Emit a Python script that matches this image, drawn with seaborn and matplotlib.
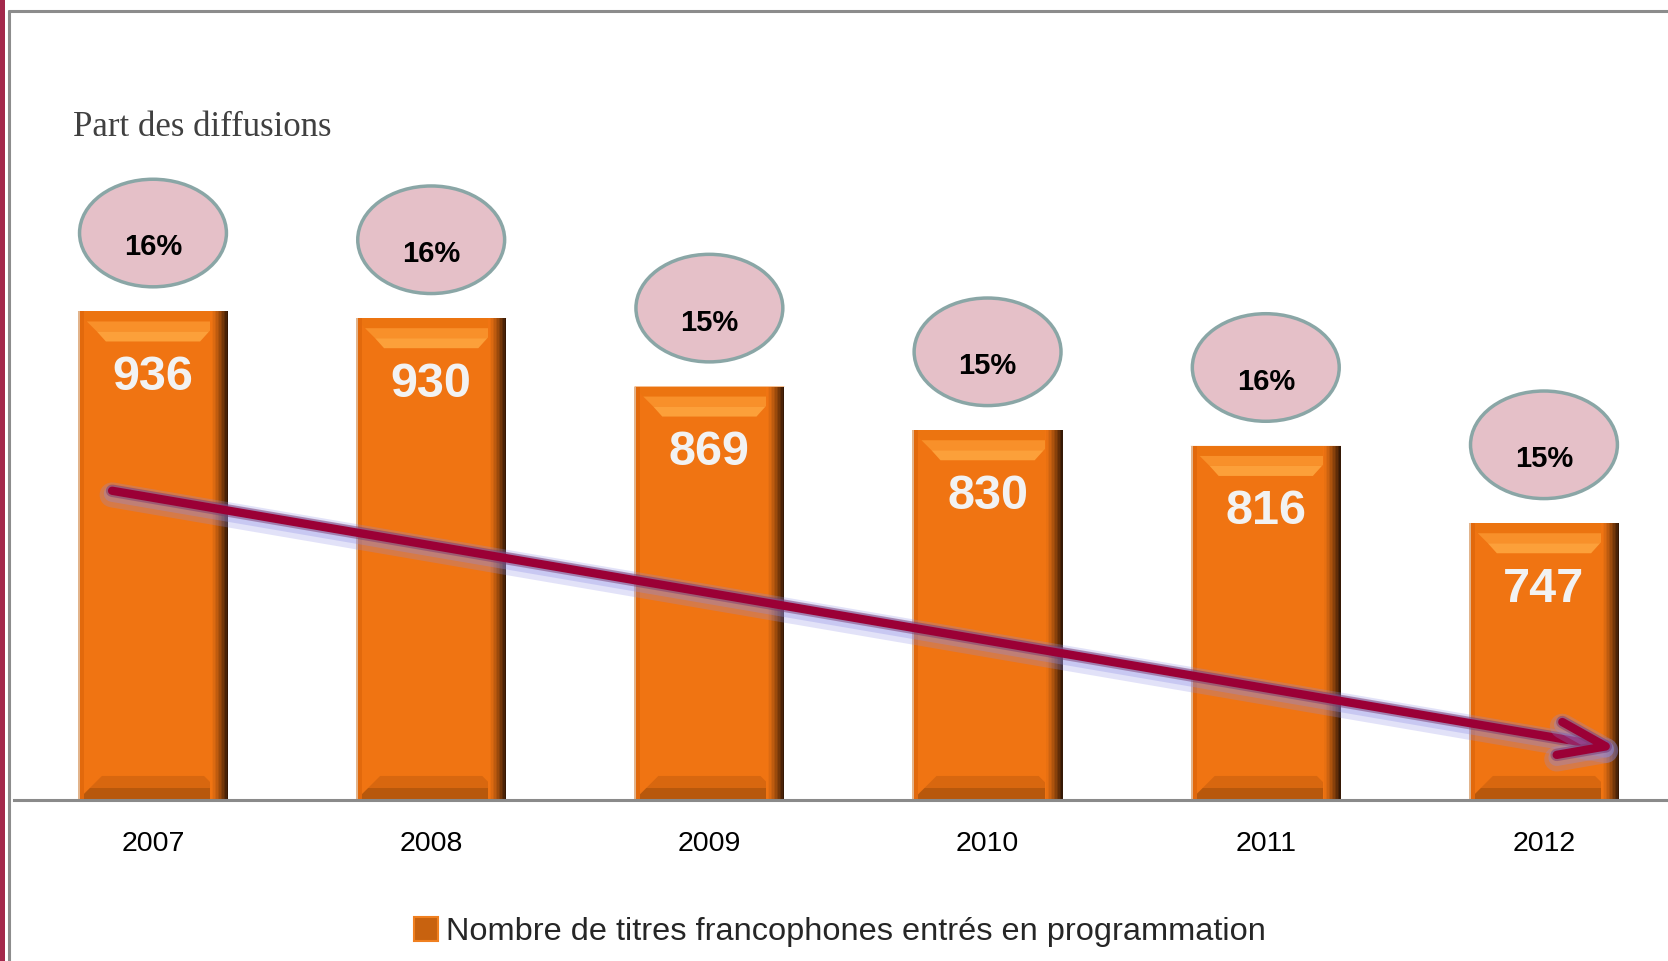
import numpy as np
import pandas as pd
import matplotlib
matplotlib.use('Agg')
import matplotlib.pyplot as plt
import matplotlib.patches as mpatches
import matplotlib.patheffects as pe
from matplotlib.lines import Line2D
from matplotlib.colors import to_rgb
import seaborn as sns

years = ['2007', '2008', '2009', '2010', '2011', '2012']
titles = [936, 930, 869, 830, 816, 747]
share = [16, 16, 15, 15, 16, 15]
legend_label = 'Nombre de titres francophones entrés en programmation'
chart_title = 'Part des diffusions'

ORANGE = '#f07412'
DARK = '#351805'

sns.set_style('white')
plt.rcParams['font.family'] = ['Liberation Sans', 'DejaVu Sans']

fig = plt.figure(figsize=(16.68, 9.61), dpi=100)
ax = fig.add_axes([0.00833, 0.16753, 1.0007, 0.8325])

df = pd.DataFrame({'year': years, 'titles': titles})
sns.barplot(data=df, x='year', y='titles', color=ORANGE, width=0.54,
            saturation=1, linewidth=0, ax=ax, zorder=2)

ax.set_ylim(500, 1214)
ax.set_xlim(-0.5, 5.5)
ax.set_xlabel('')
ax.set_ylabel('')
ax.set_yticks([])
for s in ['top', 'right', 'left']:
    ax.spines[s].set_visible(False)
ax.spines['bottom'].set_color('#8a8a8a')
ax.spines['bottom'].set_linewidth(2.2)
ax.spines['bottom'].set_zorder(5)
ax.tick_params(axis='x', which='major', length=0, pad=22, labelsize=20.5, labelcolor='black')
ax.set_xticks(np.arange(-0.5, 6, 1), minor=True)
ax.tick_params(axis='x', which='minor', length=8, width=1.6, color='#8a8a8a', direction='out')

# pixel -> data units
ux = 1 / 278.2
uy = 1 / 1.12
bot = ax.get_ylim()[0]


def mix(c1, c2, f):
    a, b = np.array(to_rgb(c1)), np.array(to_rgb(c2))
    return tuple(a + (b - a) * f)


def trap(x0, w, y_out, y_in, inset_out, inset_in, color):
    return mpatches.Polygon([(x0 + inset_out * ux, y_out), (x0 + w - inset_out * ux, y_out),
                             (x0 + w - inset_in * ux, y_in), (x0 + inset_in * ux, y_in)],
                            closed=True, facecolor=color, edgecolor='none', zorder=3)


# bevel look on each bar
for p in list(ax.patches):
    x0, w = p.get_x(), p.get_width()
    top = p.get_y() + p.get_height()
    ax.add_patch(trap(x0, w, top, top - 10 * uy, 0, 9, '#ec7410'))
    ax.add_patch(trap(x0, w, top - 10 * uy, top - 20 * uy, 9, 19, '#f8902a'))
    ax.add_patch(trap(x0, w, top - 20 * uy, top - 30 * uy, 19, 28, '#fca03a'))
    ax.add_patch(trap(x0, w, bot, bot + 12 * uy, 0, 12, '#b8580c'))
    ax.add_patch(trap(x0, w, bot + 12 * uy, bot + 24 * uy, 12, 24, '#d8670f'))
    ax.add_patch(mpatches.Rectangle((x0, bot), 2 * ux, top - bot, facecolor='#e2b48c',
                                    edgecolor='none', zorder=3))
    ax.add_patch(mpatches.Rectangle((x0 + 2 * ux, bot), 4 * ux, top - bot, facecolor='#e2690c',
                                    edgecolor='none', zorder=3))
    n = 12
    for i in range(n):
        f = (i / (n - 1)) ** 1.3
        ax.add_patch(mpatches.Rectangle((x0 + w - 18 * ux + i * 1.5 * ux, bot), 1.5 * ux, top - bot,
                                        facecolor=mix(ORANGE, DARK, f), edgecolor='none', zorder=3))

# trend arrow
ann = ax.annotate('', xy=(5.266, 546), xytext=(-0.147, 776),
                  arrowprops=dict(arrowstyle='->,head_length=0.45,head_width=0.16',
                                  color='#9b0036', lw=6, mutation_scale=75,
                                  shrinkA=0, shrinkB=0), zorder=4)
ann.arrow_patch.set_path_effects([
    pe.Stroke(linewidth=18, foreground='#8c8ce6', alpha=0.25, offset=(0, -3)),
    pe.Stroke(linewidth=12, foreground='#8c8ce6', alpha=0.3, offset=(0, -2)),
    pe.Stroke(linewidth=9, foreground='#7a3a70', alpha=0.5),
    pe.Normal()])

# value labels and share ellipses
for i, (v, s) in enumerate(zip(titles, share)):
    ax.text(i, v - 70, str(v), ha='center', va='baseline', color='#f2f2f2',
            fontsize=35, fontweight='bold', zorder=6)
    cy = v + 70
    ax.add_patch(mpatches.Ellipse((i, cy), 0.528, 96, facecolor='#e5c0c8',
                                  edgecolor='#8aa6a6', linewidth=2.5, zorder=5, clip_on=False))
    ax.text(i, cy - 20, f'{s}%', ha='center', va='baseline', fontsize=21,
            fontweight='bold', color='black', zorder=6)

# title
fig.text(73 / 1668, 825 / 961, chart_title, family=['Liberation Serif', 'DejaVu Serif'],
         fontsize=25, color='#404040', ha='left', va='baseline')

# legend
handle = mpatches.Patch(facecolor='#c8620f', edgecolor='#f08020', linewidth=1.5)
fig.legend(handles=[handle], labels=[legend_label], loc='center',
           bbox_to_anchor=(0.5036, 0.0302), frameon=False, fontsize=23.4,
           handlelength=0.71, handleheight=0.77, handletextpad=0.25,
           borderpad=0, borderaxespad=0)

# frame and side stripe
fig.add_artist(mpatches.Rectangle((0, 0), 5 / 1668, 1, transform=fig.transFigure,
                                  facecolor='#a3284b', edgecolor='none'))
fig.add_artist(Line2D([9 / 1668, 9 / 1668], [0, 950 / 961], transform=fig.transFigure,
                      color='#8c8c8c', lw=2.2))
fig.add_artist(Line2D([9 / 1668, 1], [950 / 961, 950 / 961], transform=fig.transFigure,
                      color='#8c8c8c', lw=2.2))

fig.savefig('out.png', dpi=100)
